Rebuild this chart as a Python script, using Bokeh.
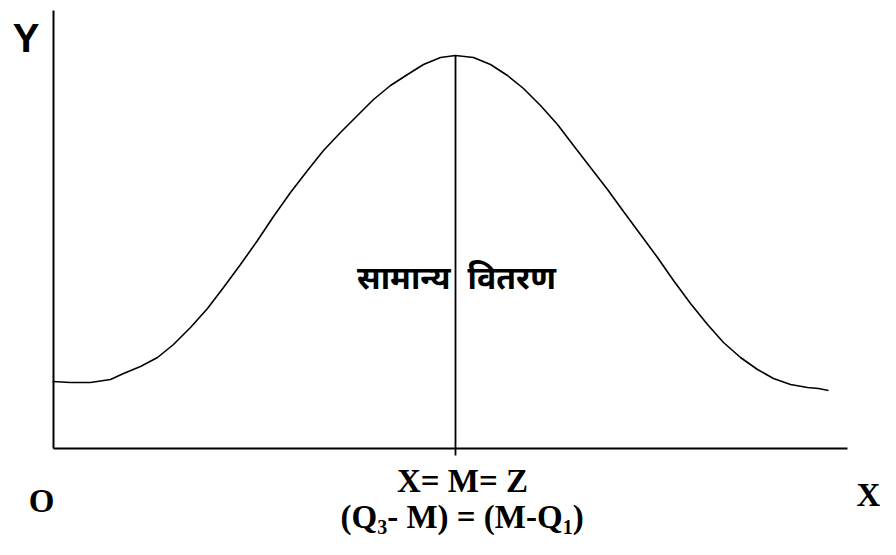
from bokeh.plotting import figure
from bokeh.models import Range1d
from bokeh.core.properties import value
from bokeh.embed import file_html
from bokeh.resources import INLINE

# ---- data (units: x along the X axis, y along the Y axis) ----
curve_x = [-1, 17, 37, 57, 70, 87, 104, 120, 137, 154, 170, 187, 204, 220, 237, 254, 270,
           287, 304, 320, 337, 354, 370, 387, 402,
           420, 437, 454, 470, 487, 504, 520, 537, 554, 570, 587, 604, 620, 637, 654,
           670, 687, 704, 720, 737, 754, 765, 775]
curve_y = [67, 66, 66, 69, 75, 82, 91, 104, 121, 140, 161, 184, 208, 232, 256, 278, 298,
           316, 333, 349, 363, 374, 384, 391, 393,
           391, 384, 373, 360, 343, 324, 303, 281, 259, 237, 214, 191, 168, 145, 124,
           106, 91, 79, 70, 64, 61, 60, 58]
mean_x = 402          # X = M = Z
peak_y = 393
x_axis_end = 794
y_axis_end = 438

title_text = "सामान्य वितरण"
origin_label = "O"
x_label = "X"
y_label = "Y"
center_label = "X= M= Z"
formula_parts = ["(Q", "3", "- M) = (M-Q", "1", ")"]

FS = 33      # main serif size (px)
SUB = 20     # subscript size (px)
# Times/Liberation Serif Bold advance widths (per 1000 em)
ADV = {"(": 333, ")": 333, "Q": 778, "M": 944, "-": 333, " ": 250, "=": 570,
       "1": 500, "3": 500}

def width(s, size):
    return sum(ADV[c] for c in s) * size / 1000.0

def mid(baseline, size, k=0.335):
    # texts are placed by their vertical middle; convert from a baseline position
    return baseline + k * size

p = figure(width=880, height=539, x_range=Range1d(-53, 827), y_range=Range1d(-91, 448),
           output_backend="svg", toolbar_location=None, min_border=0,
           background_fill_color="white", border_fill_color="white")
p.title.visible = False
p.xaxis.visible = False
p.yaxis.visible = False
p.xgrid.visible = False
p.ygrid.visible = False
p.outline_line_color = None

# axes
p.segment(x0=[0, 0], y0=[0, 0], x1=[x_axis_end, 0], y1=[0, y_axis_end],
          line_color="black", line_width=2)
# curve
p.line(curve_x, curve_y, line_color="black", line_width=1.6)
# mean line
p.segment(x0=[mean_x], y0=[peak_y], x1=[mean_x], y1=[-7], line_color="black", line_width=1.8)

serif = value("Liberation Serif")
# Y label
p.text(x=[-27.5], y=[mid(397, 40, 0.35)], text=[y_label], text_font=value("Liberation Sans"),
       text_font_style="bold", text_font_size="40px", text_align="center",
       text_baseline="middle", text_color="black")
# O and X labels
p.text(x=[-12, 815], y=[mid(-64, FS), mid(-58, FS)], text=[origin_label, x_label],
       text_font=serif, text_font_style="bold", text_font_size=f"{FS}px",
       text_align="center", text_baseline="middle", text_color="black")
# X= M= Z
p.text(x=[409], y=[mid(-44, FS)], text=[center_label], text_font=serif,
       text_font_style="bold", text_font_size=f"{FS}px", text_align="center",
       text_baseline="middle", text_color="black")

# formula with subscripts
base_y = -80
sub_y = base_y - 5
x0 = 287
xs, ys, ts, sizes = [], [], [], []
cur = x0
for i, part in enumerate(formula_parts):
    is_sub = i in (1, 3)
    size = SUB if is_sub else FS
    xs.append(cur)
    ys.append(mid(sub_y, SUB) if is_sub else mid(base_y, FS))
    ts.append(part)
    sizes.append(f"{size}px")
    cur += width(part, size)
p.text(x=xs, y=ys, text=ts, text_font=serif, text_font_style="bold",
       text_font_size=sizes, text_align="left", text_baseline="middle",
       text_color="black")

# Devanagari title, split around the mean line
words = title_text.split(" ")
deva = value("Noto Sans Devanagari")
p.text(x=[397], y=[mid(158, 32, 0.30)], text=[words[0]], text_font=deva,
       text_font_style="bold", text_font_size="32px", text_align="right",
       text_baseline="middle", text_color="black")
p.text(x=[414], y=[mid(158, 32, 0.30)], text=[words[1]], text_font=deva,
       text_font_style="bold", text_font_size="32px", text_align="left",
       text_baseline="middle", text_color="black")

open("out.html", "w").write(file_html(p, INLINE))
